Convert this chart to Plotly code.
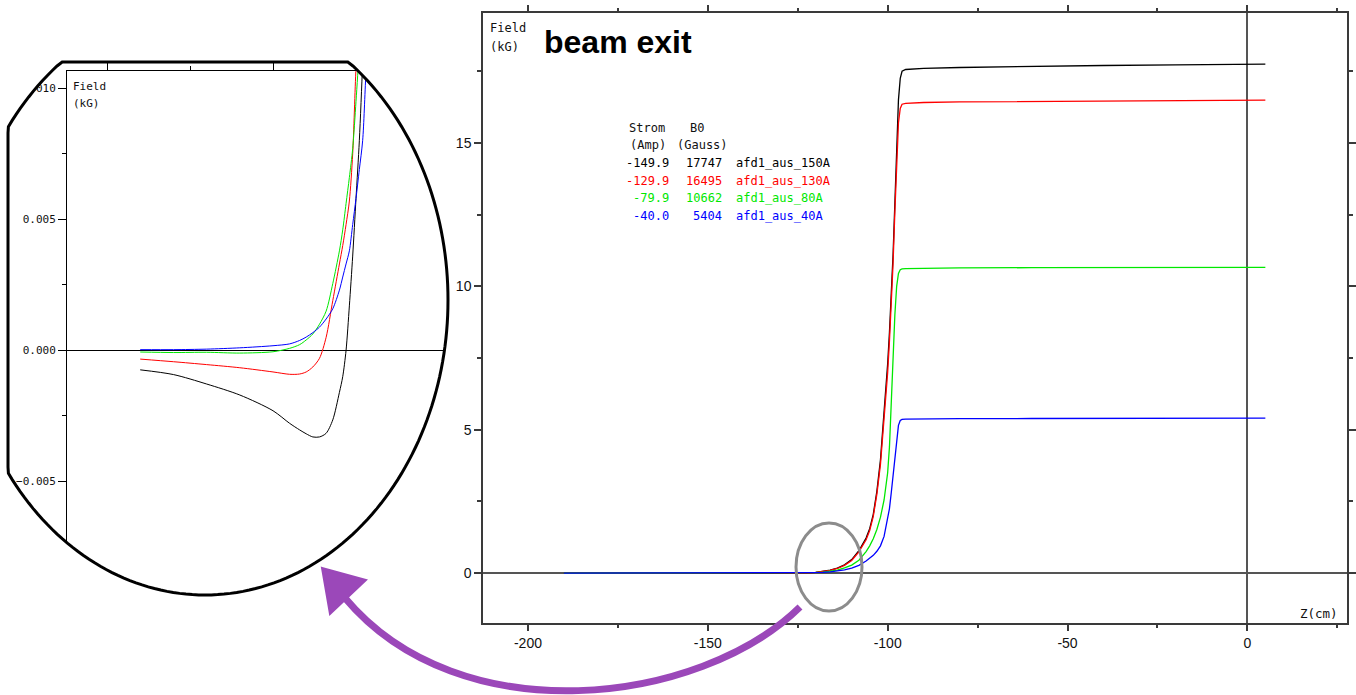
import numpy as np
import plotly.graph_objects as go

W, H = 1356, 695

# ---- measured field maps, beam exit side (Z in cm, field in kG) ----
z_cm = [-190, -180, -170, -160, -150, -145, -142, -140, -138, -136, -134, -132,
        -130, -129, -128, -127, -126, -125, -124, -123, -122, -120, -118, -116,
        -114, -112, -110, -108, -106, -105, -104, -103, -102, -101, -100, -99.5,
        -99, -98.5, -98, -97.5, -97, -96.5, -96, -95, -90, -80, -60, -40, -20, 0, 5]

strom_amp = [-149.9, -129.9, -79.9, -40.0]
b0_gauss = [17747, 16495, 10662, 5404]
run_names = ["afd1_aus_150A", "afd1_aus_130A", "afd1_aus_80A", "afd1_aus_40A"]
colors = ["#000000", "#ff0000", "#00e800", "#0000ff"]

field_150A = [-0.00074, -0.00092, -0.00128, -0.00170, -0.00230, -0.00278, -0.00303,
              -0.00318, -0.00330, -0.00330, -0.00316, -0.00265, -0.00160, -0.00100,
              0.00000, 0.00170, 0.00360, 0.00580, 0.00800, 0.0110, 0.0150, 0.027,
              0.052, 0.100, 0.170, 0.290, 0.47, 0.78, 1.22, 1.55, 2.05, 2.85, 3.95,
              5.5, 7.3, 8.4, 9.6, 11.1, 12.9, 14.9, 16.5, 17.25, 17.50, 17.56, 17.60,
              17.63, 17.67, 17.70, 17.72, 17.74]
field_130A = [-0.00033, -0.00043, -0.00054, -0.00066, -0.00082, -0.00091, -0.00090,
              -0.00082, -0.00063, -0.00030, 0.00050, 0.00190, 0.00330, 0.00400,
              0.00480, 0.00570, 0.00750, 0.01080, 0.0130, 0.0150, 0.0180, 0.028,
              0.050, 0.092, 0.160, 0.270, 0.44, 0.74, 1.16, 1.48, 1.98, 2.75, 3.80,
              5.3, 7.0, 8.1, 9.3, 10.8, 12.6, 14.4, 15.7, 16.2, 16.35, 16.38, 16.41,
              16.43, 16.45, 16.47, 16.48, 16.49]
field_80A = [-0.00006, -0.00008, -0.00007, -0.00010, -0.00005, 0.00008, 0.00022,
             0.00040, 0.00063, 0.00100, 0.00150, 0.00255, 0.00380, 0.00460,
             0.00560, 0.00660, 0.00770, 0.00950, 0.0115, 0.0135, 0.0160, 0.023,
             0.036, 0.060, 0.105, 0.180, 0.28, 0.45, 0.75, 0.95, 1.20, 1.52, 1.95,
             2.55, 3.5, 4.4, 6.0, 7.7, 9.0, 10.0, 10.45, 10.58, 10.61, 10.62, 10.63,
             10.64, 10.65, 10.655, 10.658, 10.661]
field_40A = [0.00003, 0.00003, 0.00005, 0.00010, 0.00018, 0.00025, 0.00038,
             0.00051, 0.00068, 0.00089, 0.00120, 0.00159, 0.00230, 0.00280,
             0.00330, 0.00380, 0.00480, 0.00580, 0.00690, 0.00800, 0.0106, 0.015,
             0.025, 0.045, 0.075, 0.11, 0.17, 0.27, 0.42, 0.51, 0.62, 0.76, 0.95,
             1.28, 1.85, 2.25, 2.8, 3.45, 4.1, 4.75, 5.15, 5.32, 5.36, 5.37, 5.38,
             5.385, 5.39, 5.395, 5.40, 5.402]

# last point of every map is the quoted B0 (Gauss -> kG)
series = [field_150A, field_130A, field_80A, field_40A]
series = [vals + [b0 / 1000.0] for vals, b0 in zip(series, b0_gauss)]

main_xticks = [-200, -150, -100, -50, 0]
main_yticks = [0, 5, 10, 15]
inset_yticks = [-0.005, 0.000, 0.005, 0.010]


def px(x):
    return x / W


def py(y):
    return 1 - y / H


MONO = "DejaVu Sans Mono"
SANS = "Liberation Sans"

fig = go.Figure()

for vals, col, name in zip(series, colors, run_names):
    fig.add_trace(go.Scatter(x=z_cm, y=vals, mode="lines", name=name,
                             line=dict(color=col, width=1.3),
                             xaxis="x", yaxis="y", showlegend=False))
    # magnified view near zero field
    fig.add_trace(go.Scatter(x=z_cm, y=vals, mode="lines", name=name,
                             line=dict(color=col, width=1, shape="spline", smoothing=0.8),
                             xaxis="x2", yaxis="y2", showlegend=False))

axis_col = "#3a3a3a"
fig.update_layout(
    width=W, height=H,
    margin=dict(l=0, r=0, t=0, b=0),
    paper_bgcolor="white", plot_bgcolor="white",
    xaxis=dict(domain=[px(483), px(1347)], range=[-212.5, 27.7],
               tickvals=main_xticks, ticktext=[("-" if v < 0 else "") + str(abs(v)) if v != 0 else "0" for v in main_xticks],
               showline=True, linecolor=axis_col, linewidth=1.5, mirror="allticks",
               ticks="outside", ticklen=7, tickwidth=1.5, tickcolor=axis_col,
               minor=dict(tick0=-175, dtick=50, ticks="outside", ticklen=4,
                          tickwidth=1.5, tickcolor=axis_col),
               showgrid=False, zeroline=True, zerolinecolor="#555555", zerolinewidth=1.5,
               tickfont=dict(family=SANS, size=14, color="#111"), anchor="y"),
    yaxis=dict(domain=[py(622.7), py(13.3)], range=[-1.73, 19.52],
               tickvals=main_yticks,
               showline=True, linecolor=axis_col, linewidth=1.5, mirror="allticks",
               ticks="outside", ticklen=7, tickwidth=1.5, tickcolor=axis_col,
               minor=dict(tick0=2.5, dtick=5, ticks="outside", ticklen=4,
                          tickwidth=1.5, tickcolor=axis_col),
               showgrid=False, zeroline=True, zerolinecolor="#555555", zerolinewidth=1.5,
               tickfont=dict(family=SANS, size=14, color="#111"), anchor="x"),
    xaxis2=dict(domain=[px(67), px(450)], range=[-212.05, -96.69], side="top",
                showline=True, linecolor="black", linewidth=1, mirror=False,
                ticks="outside", ticklen=8, tickwidth=1, tickcolor="black",
                tick0=-200, dtick=50,
                minor=dict(tick0=-175, dtick=50, ticks="outside", ticklen=4,
                           tickwidth=1, tickcolor="black"),
                showticklabels=False, showgrid=False, zeroline=False, anchor="y2"),
    yaxis2=dict(domain=[py(600), py(71)], range=[-0.00952, 0.01066],
                tickvals=inset_yticks, tickformat=".3f",
                showline=True, linecolor="black", linewidth=1,
                ticks="outside", ticklen=8, tickwidth=1, tickcolor="black",
                minor=dict(dtick=0.0025, tick0=0.0025, ticks="outside", ticklen=4,
                           tickwidth=1, tickcolor="black"),
                showgrid=False, zeroline=True, zerolinecolor="black", zerolinewidth=1,
                tickfont=dict(family=MONO, size=11, color="#111"), anchor="x2"),
)

# ---- magnifier lens: white mask outside a clipped ellipse, then its outline ----
cx, cy, rx, ry = 205.0, 300.0, 243.0, 295.0
t = np.linspace(0, 2 * np.pi, 241)
ex = np.maximum(cx + rx * np.cos(t), 8.0)
ey = np.maximum(cy + ry * np.sin(t), 62.0)
lens = " ".join(("M" if i == 0 else "L") + f"{px(a):.5f},{py(b):.5f}" for i, (a, b) in enumerate(zip(ex, ey))) + " Z"
outer = f"M{px(0):.5f},{py(0):.5f} L{px(0):.5f},{py(H):.5f} L{px(456):.5f},{py(H):.5f} L{px(456):.5f},{py(0):.5f} Z"

shapes = [
    dict(type="path", xref="paper", yref="paper", path=outer + " " + lens,
         fillcolor="white", fillrule="evenodd", line=dict(width=0), layer="above"),
    dict(type="path", xref="paper", yref="paper", path=lens,
         fillcolor="rgba(0,0,0,0)", line=dict(color="black", width=3), layer="above"),
    # gray ring marking the zoomed region
    dict(type="circle", xref="paper", yref="paper",
         x0=px(796), x1=px(862), y0=py(611), y1=py(523),
         line=dict(color="#8c8c8c", width=3), layer="above"),
    # purple arrow pointing to the lens
    dict(type="path", xref="paper", yref="paper",
         path=(f"M{px(800):.5f},{py(607):.5f} C{px(700):.5f},{py(705):.5f} "
               f"{px(460):.5f},{py(735):.5f} {px(345):.5f},{py(598):.5f}"),
         line=dict(color="#9b48b9", width=7), layer="above"),
    dict(type="path", xref="paper", yref="paper",
         path=(f"M{px(322):.5f},{py(568):.5f} L{px(366):.5f},{py(580):.5f} "
               f"L{px(330):.5f},{py(614):.5f} Z"),
         fillcolor="#9b48b9", line=dict(color="#9b48b9", width=2), layer="above"),
]
fig.update_layout(shapes=shapes)

ann = []


def text(x, y, s, color="#111", size=12, family=MONO, xanchor="left", bold=False):
    ann.append(dict(x=px(x), y=py(y), xref="paper", yref="paper", text=f"<b>{s}</b>" if bold else s,
                    showarrow=False, xanchor=xanchor, yanchor="middle",
                    font=dict(family=family, size=size, color=color)))


# main panel labels
text(488, 28, "Field", size=12)
text(488, 47, "(kG)", size=12)
text(542, 42, "beam exit", size=32, family=SANS, bold=True, color="black")
text(1340, 613, "Z(cm)", size=12.5, xanchor="right")

# inset labels
text(71, 86, "Field", size=11)
text(71, 103, "(kG)", size=11)

# run table
text(667, 128, "Strom", xanchor="right")
text(706, 128, "B0", xanchor="right")
text(668, 145, "(Amp)", xanchor="right")
text(730, 145, "(Gauss)", xanchor="right")
for i, (a, b, n, c) in enumerate(zip(strom_amp, b0_gauss, run_names, colors)):
    yy = 163 + 17.6 * i
    text(671, yy, f"-{abs(a):.1f}", color=c, xanchor="right")
    text(724, yy, f"{b}", color=c, xanchor="right")
    text(734, yy, n, color=c, xanchor="left")

fig.update_layout(annotations=ann)

fig.write_html("out.html")
